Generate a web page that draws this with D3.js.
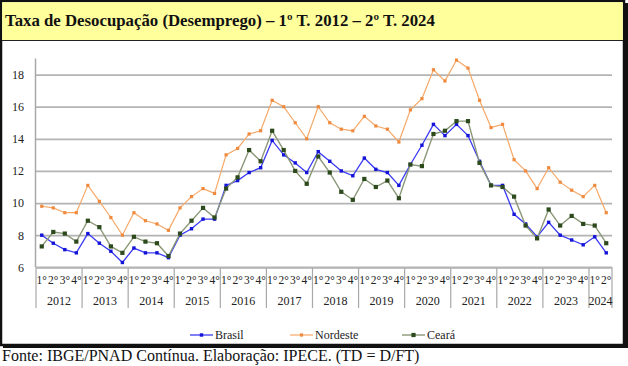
<!DOCTYPE html>
<html>
<head>
<meta charset="utf-8">
<script src="https://cdn.jsdelivr.net/npm/d3@7"></script>
<style>
  body { margin: 0; background: #fff; }
  svg { display: block; }
</style>
</head>
<body>
<svg width="628" height="366"></svg>
<script>
// anos e trimestres (1º T. 2012 - 2º T. 2024)
const anos = [2012, 2013, 2014, 2015, 2016, 2017, 2018, 2019, 2020, 2021, 2022, 2023, 2024];
const trimestres = ['1°', '2°', '3°', '4°'];
const yTicks = [6, 8, 10, 12, 14, 16, 18];

const brasil = [8.0, 7.5, 7.1, 6.9, 8.1, 7.5, 7.0, 6.3, 7.2, 6.9, 6.9, 6.6,
  8.0, 8.4, 9.0, 9.0, 11.1, 11.4, 11.9, 12.2, 13.9, 13.0, 12.5, 11.9,
  13.2, 12.6, 12.0, 11.7, 12.8, 12.1, 11.9, 11.1, 12.4, 13.6, 14.9, 14.2,
  14.9, 14.2, 12.6, 11.1, 11.1, 9.3, 8.7, 7.9, 8.8, 8.0, 7.7, 7.4, 7.9, 6.9];
const nordeste = [9.8, 9.7, 9.4, 9.4, 11.1, 10.1, 9.1, 8.0, 9.4, 8.9, 8.7, 8.3,
  9.7, 10.4, 10.9, 10.6, 13.0, 13.4, 14.3, 14.5, 16.4, 16.0, 15.0, 14.0,
  16.0, 15.0, 14.6, 14.5, 15.4, 14.8, 14.6, 13.8, 15.8, 16.5, 18.3, 17.6,
  18.9, 18.4, 16.4, 14.7, 14.9, 12.7, 12.0, 10.9, 12.2, 11.3, 10.8, 10.4, 11.1, 9.4];
const ceara = [7.3, 8.2, 8.1, 7.6, 8.9, 8.5, 7.3, 6.9, 7.9, 7.6, 7.5, 6.7,
  8.1, 8.9, 9.7, 9.1, 10.9, 11.6, 13.3, 12.6, 14.5, 13.3, 12.0, 11.2,
  12.9, 11.9, 10.7, 10.2, 11.5, 11.0, 11.4, 10.3, 12.4, 12.3, 14.3, 14.5,
  15.1, 15.1, 12.5, 11.1, 11.0, 10.4, 8.6, 7.8, 9.6, 8.6, 9.2, 8.7, 8.6, 7.5];

const periodos = brasil.map((d, i) => ({ ano: anos[Math.floor(i / 4)], tri: trimestres[i % 4], i }));

const series = [
  { nome: 'Brasil', valores: brasil, cor: '#3a3af5', marca: '#1414d8', tam: 3.4, larg: 1.3 },
  { nome: 'Nordeste', valores: nordeste, cor: '#f6a867', marca: '#ef8a3e', tam: 3.2, larg: 1.2 },
  { nome: 'Ceará', valores: ceara, cor: '#8a9878', marca: '#2c4a1c', tam: 4.2, larg: 1.4 }
];

const serif = 'Liberation Serif, Times New Roman, Tinos, DejaVu Serif, serif';
const svg = d3.select('svg').style('font-family', serif);

// moldura e faixa do título
svg.append('rect').attr('x', 1).attr('y', 1).attr('width', 623).attr('height', 344)
  .attr('fill', '#fff').attr('stroke', '#111').attr('stroke-width', 2.5);
svg.append('rect').attr('x', 624).attr('y', 3).attr('width', 4).attr('height', 345).attr('fill', '#111');
svg.append('rect').attr('x', 3).attr('y', 344).attr('width', 625).attr('height', 4).attr('fill', '#111');
svg.append('rect').attr('x', 2.2).attr('y', 2.2).attr('width', 620.6).attr('height', 37.8)
  .attr('fill', '#ffff9c');
svg.append('line').attr('x1', 2).attr('x2', 623).attr('y1', 40.5).attr('y2', 40.5)
  .attr('stroke', '#222').attr('stroke-width', 1);

svg.append('text').attr('x', 5).attr('y', 26).style('font-family', serif)
  .attr('font-size', 16.8).attr('font-weight', 'bold').attr('fill', '#111')
  .text('Taxa de Desocupação (Desemprego) – 1º T. 2012 – 2º T. 2024');

const x = d3.scaleBand().domain(periodos.map(d => d.i)).range([36, 612]);
const y = d3.scaleLinear().domain([6, 19]).range([267.3, 58.5]);
const cx = i => x(i) + x.bandwidth() / 2;

// grade horizontal
const gy = svg.append('g').attr('transform', 'translate(36,0)')
  .call(d3.axisLeft(y).tickValues(yTicks).tickSize(-576).tickPadding(12));
gy.attr('font-family', null);
gy.select('.domain').remove();
gy.selectAll('.tick line').attr('stroke', '#b4b4b4').attr('stroke-width', 1.8);
gy.selectAll('.tick text').attr('font-size', 12).attr('fill', '#222').style('font-family', serif);

// eixo vertical
svg.append('line').attr('x1', 35.5).attr('x2', 35.5).attr('y1', y(19)).attr('y2', y(6))
  .attr('stroke', '#a8a8a8').attr('stroke-width', 1.5);

// eixo de categorias: trimestres
const gx = svg.append('g').attr('transform', `translate(0,${y(6)})`)
  .call(d3.axisBottom(x).tickSize(0).tickPadding(9).tickFormat(i => periodos[i].tri));
gx.attr('font-family', null);
gx.select('.domain').remove();
gx.selectAll('.tick text').attr('font-size', 11.5).attr('fill', '#222').style('font-family', serif);

// anos e separadores
const grupos = anos.map(a => {
  const idx = periodos.filter(p => p.ano === a).map(p => p.i);
  return { ano: a, x0: x(idx[0]), x1: x(idx[idx.length - 1]) + x.bandwidth() };
});
svg.selectAll('.sep').data([grupos[0].x0, ...grupos.map(g => g.x1)]).enter().append('line')
  .attr('x1', d => d).attr('x2', d => d).attr('y1', y(6)).attr('y2', 308)
  .attr('stroke', '#a8a8a8').attr('stroke-width', 1.2);
svg.selectAll('.ano').data(grupos).enter().append('text')
  .attr('x', d => (d.x0 + d.x1) / 2).attr('y', 305).attr('text-anchor', 'middle')
  .style('font-family', serif).attr('font-size', 12).attr('fill', '#222').text(d => d.ano);

// linha do eixo x
svg.append('line').attr('x1', 36).attr('x2', 612).attr('y1', y(6)).attr('y2', y(6))
  .attr('stroke', '#b4b4b4').attr('stroke-width', 1.8);

// séries
const linha = d3.line().x((d, i) => cx(i)).y(d => y(d));
series.forEach(s => {
  svg.append('path').datum(s.valores).attr('d', linha)
    .attr('fill', 'none').attr('stroke', s.cor).attr('stroke-width', s.larg);
  svg.append('g').selectAll('rect').data(s.valores).enter().append('rect')
    .attr('x', (d, i) => cx(i) - s.tam / 2).attr('y', d => y(d) - s.tam / 2)
    .attr('width', s.tam).attr('height', s.tam).attr('fill', s.marca);
});

// legenda
const legX = [190, 290, 402];
series.forEach((s, k) => {
  const g = svg.append('g').attr('transform', `translate(${legX[k]},335)`);
  g.append('line').attr('x1', 0).attr('x2', 23).attr('stroke', s.cor).attr('stroke-width', s.larg);
  g.append('rect').attr('x', 11.5 - s.tam / 2).attr('y', -s.tam / 2)
    .attr('width', s.tam).attr('height', s.tam).attr('fill', s.marca);
  g.append('text').attr('x', 25).attr('y', 4).style('font-family', serif)
    .attr('font-size', 12).attr('fill', '#222').text(s.nome);
});

// fonte
svg.append('text').attr('x', 2).attr('y', 361).style('font-family', serif)
  .attr('font-size', 16).attr('fill', '#111')
  .text('Fonte: IBGE/PNAD Contínua. Elaboração: IPECE. (TD = D/FT)');
</script>
</body>
</html>
